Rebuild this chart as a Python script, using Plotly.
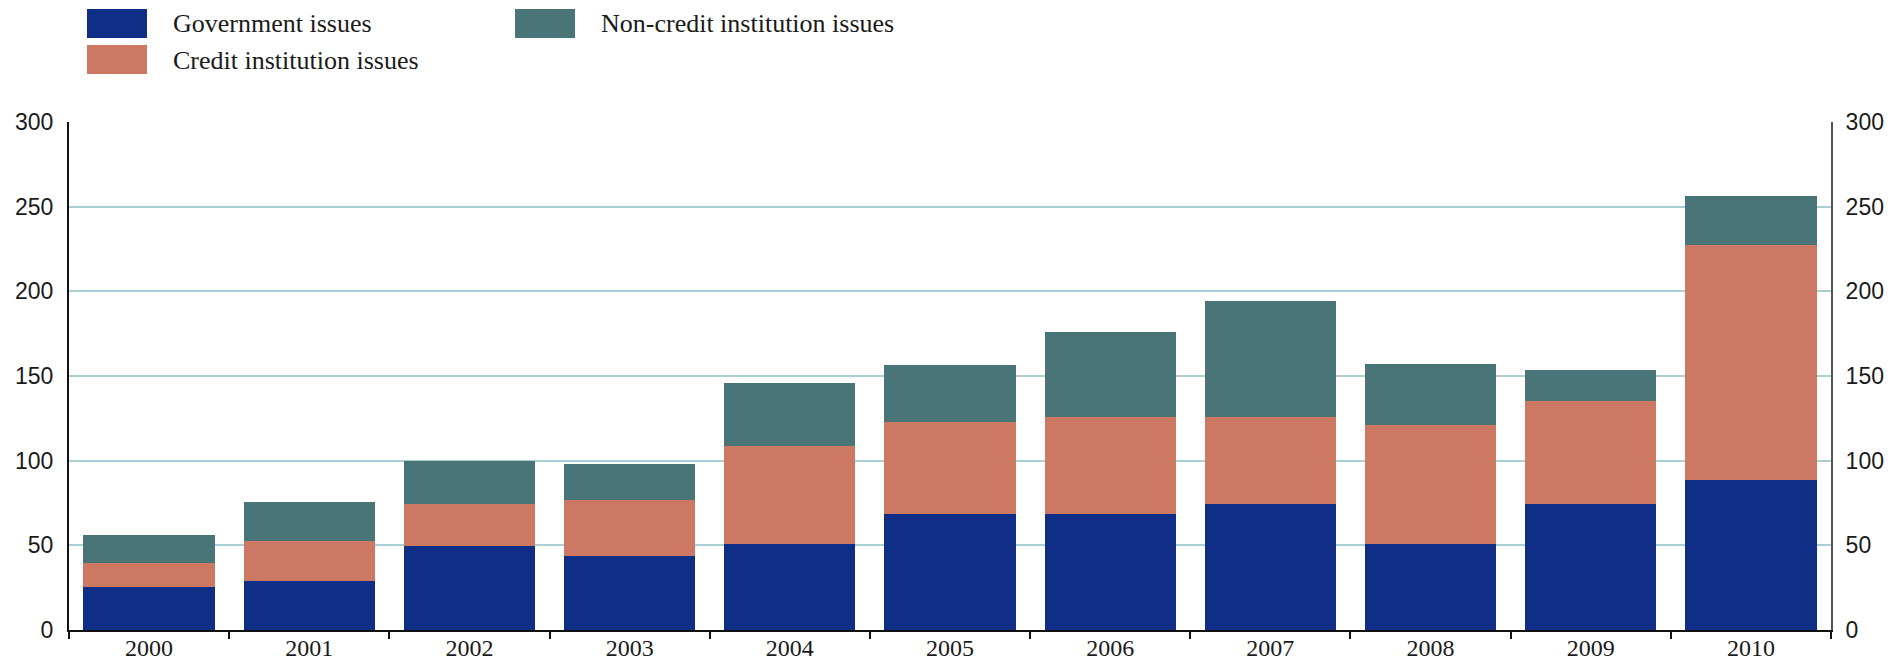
import plotly.graph_objects as go

# Annual issuance, stacked by issuer type
years = ["2000", "2001", "2002", "2003", "2004", "2005", "2006", "2007", "2008", "2009", "2010"]
government = [25.5, 29.0, 49.5, 43.5, 50.5, 68.5, 68.5, 74.5, 50.5, 74.5, 88.5]
credit_inst = [14.3, 23.8, 24.8, 33.2, 58.2, 54.6, 57.0, 51.0, 70.6, 60.9, 139.0]
non_credit_inst = [16.6, 22.7, 25.7, 21.3, 37.0, 33.5, 50.5, 68.5, 35.9, 17.9, 28.7]

series_names = ["Government issues", "Credit institution issues", "Non-credit institution issues"]
y_ticks = [0, 50, 100, 150, 200, 250, 300]

C_GOV = "#0f2f86"
C_CRED = "#cd7863"
C_NONC = "#497579"
GRID = "#a9cfd5"

W, H = 1899, 660
L, R, T, B = 69, 68, 122, 30
PW, PH = W - L - R, H - T - B

fig = go.Figure()
for name, vals, col in zip(series_names, [government, credit_inst, non_credit_inst], [C_GOV, C_CRED, C_NONC]):
    fig.add_trace(go.Bar(x=years, y=vals, name=name, marker=dict(color=col, line=dict(width=0)),
                         width=0.82, showlegend=False))

# mirror axis on the right carrying the same scale
fig.add_trace(go.Scatter(x=[years[0]], y=[0], yaxis="y2", mode="markers",
                         marker=dict(opacity=0), showlegend=False, hoverinfo="skip"))

ytickfont = dict(family="Liberation Sans", size=23, color="#1a1a1a")

fig.update_layout(
    width=W, height=H,
    margin=dict(l=L, r=R, t=T, b=B),
    barmode="stack",
    plot_bgcolor="white", paper_bgcolor="white",
    font=dict(family="Liberation Serif", color="#1a1a1a"),
    xaxis=dict(type="category", range=[-0.5, 10.5], showgrid=False, automargin=False,
               showline=True, linecolor="#111", linewidth=2,
               ticks="outside", tickson="boundaries", ticklen=7, tickcolor="#111", tickwidth=1.5,
               ticklabelstandoff=-5,
               tickfont=dict(family="Liberation Serif", size=24, color="#1a1a1a")),
    yaxis=dict(range=[0, 300], tickvals=y_ticks, showgrid=True, gridcolor=GRID, gridwidth=2,
               zeroline=False, showline=True, linecolor="#111", linewidth=2, automargin=False,
               ticks="", ticklabelstandoff=9, tickfont=ytickfont),
    yaxis2=dict(range=[0, 300], tickvals=y_ticks, overlaying="y", side="right",
                showgrid=False, zeroline=False, showline=True, linecolor="#555", linewidth=2,
                automargin=False, ticks="", ticklabelstandoff=8, tickfont=ytickfont),
)


def px_x(px):
    return (px - L) / PW


def px_y(py):
    return (H - B - py) / PH


# legend swatches and labels placed above the plot area
legend_items = [
    (series_names[0], C_GOV, 87, 9),
    (series_names[1], C_CRED, 87, 45),
    (series_names[2], C_NONC, 515, 9),
]
for text, col, x0, y0 in legend_items:
    fig.add_shape(type="rect", xref="paper", yref="paper",
                  x0=px_x(x0), x1=px_x(x0 + 60), y0=px_y(y0 + 29), y1=px_y(y0),
                  fillcolor=col, line=dict(width=0))
    fig.add_annotation(xref="paper", yref="paper", x=px_x(x0 + 84), y=px_y(y0 + 15),
                       text=text, showarrow=False, xanchor="left", yanchor="middle",
                       font=dict(family="Liberation Serif", size=26, color="#1a1a1a"))

fig.write_html("out.html")
